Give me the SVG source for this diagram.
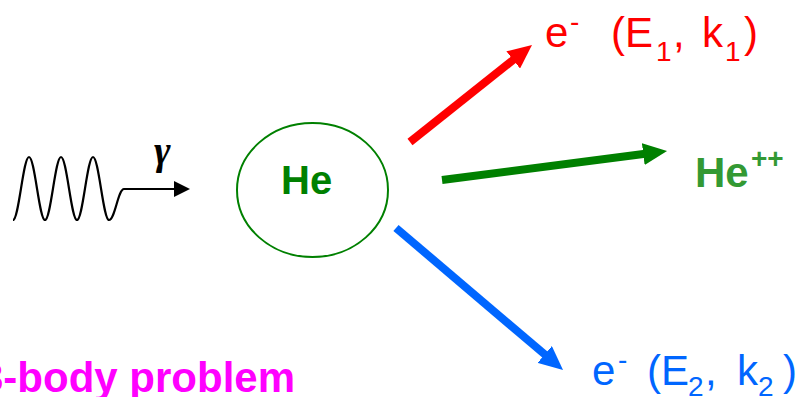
<svg xmlns="http://www.w3.org/2000/svg" width="799" height="397" viewBox="0 0 799 397">
<style>
.lbl{font-family:"Liberation Sans",Arial,sans-serif}
.b{font-weight:bold}
.shaft{stroke-width:8;fill:none;stroke-linecap:butt}
</style>
<defs>
<marker id="hr" markerUnits="userSpaceOnUse" markerWidth="24" markerHeight="22" refX="6" refY="11" orient="auto"><path d="M0,0 L24,11 L0,22 z" fill="#ff0000"/></marker>
<marker id="hg" markerUnits="userSpaceOnUse" markerWidth="24" markerHeight="22" refX="6" refY="11" orient="auto"><path d="M0,0 L24,11 L0,22 z" fill="#008000"/></marker>
<marker id="hb" markerUnits="userSpaceOnUse" markerWidth="24" markerHeight="22" refX="6" refY="11" orient="auto"><path d="M0,0 L24,11 L0,22 z" fill="#0066ff"/></marker>
<marker id="hk" markerUnits="userSpaceOnUse" markerWidth="16" markerHeight="16" refX="2" refY="8" orient="auto"><path d="M0,0 L16,8 L0,16 z" fill="#000"/></marker>
</defs>
<g id="photon">
<path d="M13,220 C18.8,220 23.2,157 29,157 C34.8,157 39.2,220 45,220 C50.8,220 55.2,157 61,157 C66.8,157 71.2,220 77,220 C82.8,220 87.2,157 93,157 C98.8,157 103.2,220 109,220 C115,220 118,189 124,189 L176,189" fill="none" stroke="#000" stroke-width="2.2" marker-end="url(#hk)"/>
<text x="154" y="164" font-family="'Liberation Serif',serif" font-style="italic" font-weight="bold" font-size="40">γ</text>
</g>
<g id="he">
<ellipse cx="312.5" cy="190" rx="75.5" ry="67" fill="none" stroke="#008000" stroke-width="2"/>
<text class="lbl b" x="281" y="194" font-size="40" fill="#008000">He</text>
</g>
<g id="connectors">
<line class="shaft" x1="410" y1="142" x2="517.9" y2="56.2" stroke="#ff0000" marker-end="url(#hr)"/>
<line class="shaft" x1="442" y1="180" x2="649.2" y2="153.3" stroke="#008000" marker-end="url(#hg)"/>
<line class="shaft" x1="396" y1="228" x2="549.3" y2="358.3" stroke="#0066ff" marker-end="url(#hb)"/>
</g>
<g id="electron1">
<text class="lbl" font-size="42" fill="#ff0000"><tspan x="545" y="47">e</tspan><tspan x="570" y="31" font-size="28">-</tspan><tspan x="611" y="47">(E</tspan><tspan x="656" y="61" font-size="28">1</tspan><tspan x="673" y="47">,</tspan><tspan x="702" y="47">k</tspan><tspan x="725" y="61" font-size="28">1</tspan><tspan x="744" y="47">)</tspan></text>
</g>
<g id="heplusplus">
<text class="lbl b" fill="#339933"><tspan x="695" y="187" font-size="42">He</tspan><tspan x="751" y="168" font-size="28">++</tspan></text>
</g>
<g id="electron2">
<text class="lbl" font-size="42" fill="#0066ff"><tspan x="592" y="385">e</tspan><tspan x="618" y="369" font-size="28">-</tspan><tspan x="647" y="385">(E</tspan><tspan x="688" y="396" font-size="28">2</tspan><tspan x="705" y="385">,</tspan><tspan x="737" y="385">k</tspan><tspan x="758" y="396" font-size="28">2</tspan><tspan x="783" y="385">)</tspan></text>
</g>
<g id="title">
<text class="lbl b" x="-20" y="392" font-size="42" fill="#ff00ff">3-body problem</text>
</g>
</svg>
